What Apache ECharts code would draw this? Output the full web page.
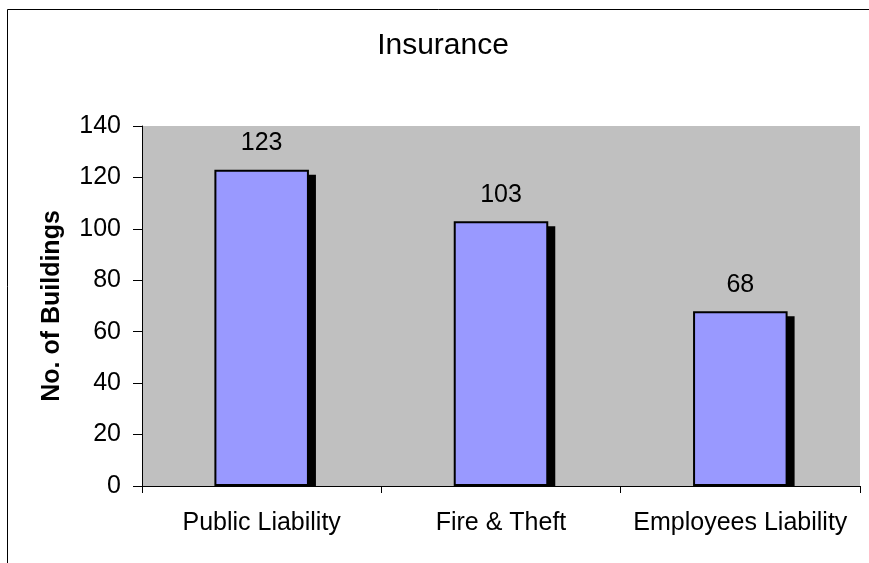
<!DOCTYPE html>
<html>
<head>
<meta charset="utf-8">
<script src="https://cdn.jsdelivr.net/npm/echarts@6/dist/echarts.min.js"></script>
<style>
html,body{margin:0;padding:0;background:#fff;}
#chart{width:869px;height:563px;}
</style>
</head>
<body>
<div id="chart"></div>
<script>
const titleText = "Insurance";
const categories = ["Public Liability", "Fire & Theft", "Employees Liability"];
const buildings = [123, 103, 68];
const yAxisName = "No. of Buildings";
const yMin = 0, yMax = 140, yStep = 20;

const FONT = "'Liberation Sans', Arial, sans-serif";
const chart = echarts.init(document.getElementById('chart'), null, {renderer: 'canvas'});

const BAR_W = 0.395;
const option = {
  animation: false,
  backgroundColor: '#ffffff',
  title: {
    text: titleText,
    left: 438, top: 26, textAlign: 'center',
    textStyle: {fontFamily: FONT, fontSize: 30, fontWeight: 'normal', color: '#000'}
  },
  graphic: [{
    type: 'polyline',
    shape: {points: [[7.5, 563], [7.5, 9.5], [869, 9.5]]},
    style: {stroke: '#000', lineWidth: 1, fill: null},
    silent: true
  }],
  grid: {
    left: 142, top: 126, right: 9, bottom: 77,
    show: true, backgroundColor: '#C0C0C0', borderWidth: 0
  },
  xAxis: {
    type: 'category',
    data: categories,
    axisLine: {show: true, lineStyle: {color: '#000', width: 1}},
    axisTick: {show: true, length: 7, lineStyle: {color: '#000'}, alignWithLabel: false},
    axisLabel: {fontFamily: FONT, fontSize: 25, color: '#000', margin: 25, interval: 0},
    splitLine: {show: false}
  },
  yAxis: {
    type: 'value',
    min: yMin, max: yMax, interval: yStep,
    name: yAxisName,
    nameLocation: 'middle',
    nameRotate: 90,
    nameGap: 77,
    nameTextStyle: {fontFamily: FONT, fontSize: 25, fontWeight: 'bold', color: '#000'},
    axisLine: {show: true, lineStyle: {color: '#000', width: 1}},
    axisTick: {show: true, length: 9, lineStyle: {color: '#000'}},
    axisLabel: {fontFamily: FONT, fontSize: 25, color: '#000', margin: 21},
    splitLine: {show: false}
  },
  series: [
    {
      type: 'custom',
      z: 1,
      silent: true,
      data: buildings.map((v, i) => [i, v]),
      renderItem: function (params, api) {
        const top = api.coord([api.value(0), api.value(1)]);
        const base = api.coord([api.value(0), 0]);
        const w = api.size([1, 0])[0] * BAR_W;
        const dx = 7, dy = 5;
        return {
          type: 'rect',
          shape: {x: top[0] - w / 2 + dx, y: top[1] + dy, width: w, height: base[1] - top[1] - dy},
          style: {fill: '#000'}
        };
      }
    },
    {
      type: 'bar',
      z: 2,
      data: buildings,
      barWidth: (BAR_W * 100) + '%',
      itemStyle: {color: '#9999FF', borderColor: '#000', borderWidth: 2},
      label: {
        show: true, position: 'top', distance: 14,
        fontFamily: FONT, fontSize: 25, color: '#000'
      }
    }
  ]
};
chart.setOption(option);
</script>
</body>
</html>
